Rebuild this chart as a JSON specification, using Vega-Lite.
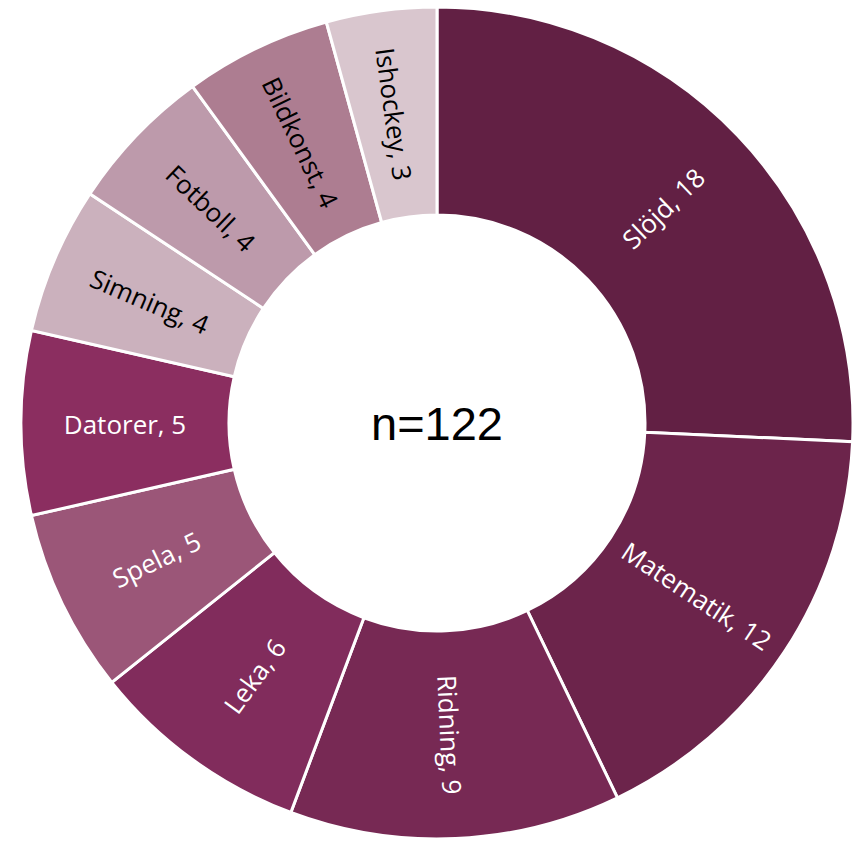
{
  "$schema": "https://vega.github.io/schema/vega-lite/v6.json",
  "width": 834,
  "height": 836,
  "autosize": {"type": "none"},
  "padding": {"left": 20, "top": 5, "right": 0, "bottom": 0},
  "background": "white",
  "config": {"view": {"stroke": null}},
  "datasets": {
    "segments": [
      {"category": "Slöjd", "value": 18, "order": 1},
      {"category": "Matematik", "value": 12, "order": 2},
      {"category": "Ridning", "value": 9, "order": 3},
      {"category": "Leka", "value": 6, "order": 4},
      {"category": "Spela", "value": 5, "order": 5},
      {"category": "Datorer", "value": 5, "order": 6},
      {"category": "Simning", "value": 4, "order": 7},
      {"category": "Fotboll", "value": 4, "order": 8},
      {"category": "Bildkonst", "value": 4, "order": 9},
      {"category": "Ishockey", "value": 3, "order": 10}
    ],
    "center": [{"t": "n=122"}]
  },
  "layer": [
    {
      "data": {"name": "segments"},
      "mark": {"type": "arc", "outerRadius": 416, "innerRadius": 208, "stroke": "white", "strokeWidth": 3},
      "encoding": {
        "theta": {"field": "value", "type": "quantitative", "stack": true},
        "order": {"field": "order", "type": "quantitative"},
        "color": {
          "field": "category",
          "type": "nominal",
          "scale": {
            "domain": ["Slöjd", "Matematik", "Ridning", "Leka", "Spela", "Datorer", "Simning", "Fotboll", "Bildkonst", "Ishockey"],
            "range": ["#622044", "#6c244b", "#772954", "#812c5c", "#9b5678", "#8b2e60", "#cbb1bd", "#bd9aab", "#ad7d91", "#d9c6ce"]
          },
          "legend": null
        }
      }
    },
    {
      "data": {"name": "segments"},
      "transform": [
        {"joinaggregate": [{"op": "sum", "field": "value", "as": "total"}]},
        {"window": [{"op": "sum", "field": "value", "as": "cum"}], "sort": [{"field": "order"}]},
        {"calculate": "(datum.cum - datum.value / 2) / datum.total * 360", "as": "mid"},
        {"calculate": "datum.mid < 180 ? (datum.mid + 270) % 360 : (datum.mid + 90) % 360", "as": "ang"},
        {"calculate": "datum.category + ', ' + datum.value", "as": "label"}
      ],
      "mark": {"type": "text", "radius": 312, "font": "Open Sans", "fontSize": 26, "align": "center", "baseline": "middle", "dy": 3},
      "encoding": {
        "theta": {"field": "value", "type": "quantitative", "stack": true},
        "order": {"field": "order", "type": "quantitative"},
        "text": {"field": "label", "type": "nominal"},
        "angle": {"field": "ang", "type": "quantitative", "scale": null},
        "color": {"condition": {"test": "datum.value >= 5", "value": "white"}, "value": "black"}
      }
    },
    {
      "data": {"name": "center"},
      "mark": {"type": "text", "font": "Liberation Sans", "fontSize": 47, "align": "center", "baseline": "middle", "dy": 3},
      "encoding": {
        "text": {"field": "t", "type": "nominal"},
        "color": {"value": "black"}
      }
    }
  ]
}
